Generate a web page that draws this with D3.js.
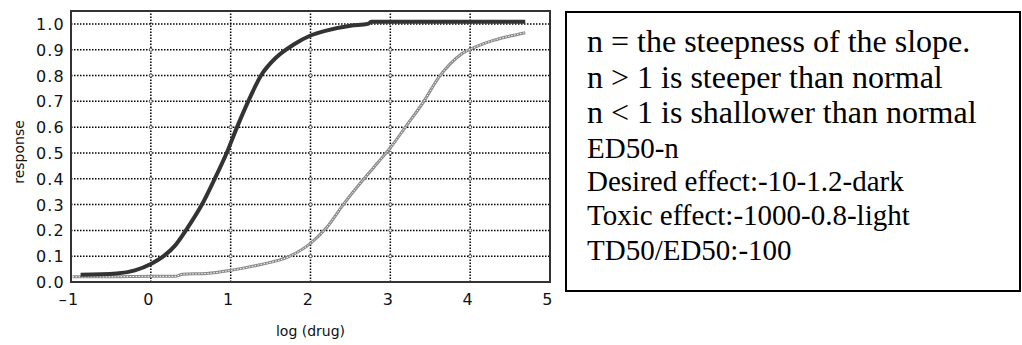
<!DOCTYPE html>
<meta charset='utf-8'>
<style>
  body { margin:0; background:#fff; }
  .tick-label { font-family:'DejaVu Sans', sans-serif; font-size:16px; fill:#111; letter-spacing:1.2px; }
  .axis-title { font-family:'DejaVu Sans', sans-serif; font-size:14px; fill:#111; }
</style>
<body>
  <script src='https://d3js.org/d3.v7.min.js' charset='utf-8'></script>
  <script>

    var width = 1022;
    var height = 345;

    // tick values
    var xTicks = [-1, 0, 1, 2, 3, 4, 5];
    var yTicks = [0.0, 0.1, 0.2, 0.3, 0.4, 0.5, 0.6, 0.7, 0.8, 0.9, 1.0];

    // desired effect curve (dark)
    var darkX = [-0.88, -0.43, -0.2, 0.0, 0.16, 0.3, 0.46, 0.64, 0.8, 0.95, 1.08, 1.22, 1.38, 1.57, 1.79, 2.0, 2.21, 2.5, 2.72, 2.76, 4.69];
    var darkY = [0.028, 0.033, 0.045, 0.07, 0.10, 0.14, 0.21, 0.30, 0.40, 0.50, 0.60, 0.70, 0.80, 0.87, 0.92, 0.955, 0.975, 0.993, 1.0, 1.008, 1.008];

    // toxic effect curve (light)
    var lightX = [-0.98, -0.5, 0.0, 0.3, 0.4, 0.7, 1.0, 1.35, 1.74, 2.0, 2.2, 2.41, 2.67, 2.85, 3.0, 3.2, 3.42, 3.6, 3.75, 3.9, 4.1, 4.3, 4.5, 4.69];
    var lightY = [0.02, 0.02, 0.022, 0.022, 0.03, 0.033, 0.045, 0.066, 0.10, 0.15, 0.21, 0.30, 0.40, 0.465, 0.52, 0.605, 0.70, 0.79, 0.845, 0.885, 0.915, 0.937, 0.953, 0.966];

    var notes = [
      'n = the steepness of the slope.',
      'n > 1 is steeper than normal',
      'n < 1 is shallower than normal',
      'ED50-n',
      'Desired effect:-10-1.2-dark',
      'Toxic effect:-1000-0.8-light',
      'TD50/ED50:-100'
    ];

    var svg = d3.select('body').append('svg')
      .attr('width', width)
      .attr('height', height);

    var x = d3.scaleLinear().domain([-1, 5]).range([71, 550]);
    var y = d3.scaleLinear().domain([0, 1.05]).range([282, 11]);

    // grid
    var grid = svg.append('g');
    grid.selectAll('.vg')
      .data(xTicks.slice(1, -1))
      .enter().append('line')
      .attr('x1', d => x(d)).attr('x2', d => x(d))
      .attr('y1', y(0)).attr('y2', y(1.05))
      .attr('stroke', '#000').attr('stroke-width', 1.5)
      .attr('stroke-dasharray', '1.5,1.5');
    grid.selectAll('.hg')
      .data(yTicks.slice(1))
      .enter().append('line')
      .attr('x1', x(-1)).attr('x2', x(5))
      .attr('y1', d => y(d)).attr('y2', d => y(d))
      .attr('stroke', '#000').attr('stroke-width', 1.5)
      .attr('stroke-dasharray', '1.5,1.5');

    // little rings where grid lines cross
    var crossings = [];
    xTicks.slice(1, -1).forEach(a => yTicks.slice(1, -1).forEach(b => crossings.push([a, b])));
    grid.selectAll('circle')
      .data(crossings)
      .enter().append('circle')
      .attr('cx', d => x(d[0])).attr('cy', d => y(d[1]))
      .attr('r', 1.6)
      .attr('fill', '#fff').attr('stroke', '#333').attr('stroke-width', 0.8);

    var lightData = lightX.map((d, i) => [d, lightY[i]]);
    var darkData = darkX.map((d, i) => [d, darkY[i]]);

    var smooth = d3.line().x(d => x(d[0])).y(d => y(d[1])).curve(d3.curveMonotoneX);

    svg.append('path')
      .datum(lightData)
      .attr('d', smooth)
      .attr('fill', 'none')
      .attr('stroke', '#8a8a8a')
      .attr('stroke-width', 3);
    svg.append('path')
      .datum(lightData)
      .attr('d', smooth)
      .attr('fill', 'none')
      .attr('stroke', '#fff')
      .attr('stroke-width', 1)
      .attr('stroke-dasharray', '1.5,1.5');

    svg.append('path')
      .datum(darkData)
      .attr('d', smooth)
      .attr('fill', 'none')
      .attr('stroke', '#333')
      .attr('stroke-width', 4)
      .attr('stroke-linejoin', 'round');

    // frame
    svg.append('rect')
      .attr('x', x(-1)).attr('y', y(1.05))
      .attr('width', x(5) - x(-1)).attr('height', y(0) - y(1.05))
      .attr('fill', 'none')
      .attr('stroke', '#333')
      .attr('stroke-width', 2);

    // tick labels
    svg.selectAll('.yl')
      .data(yTicks)
      .enter().append('text')
      .attr('class', 'tick-label')
      .attr('x', 65)
      .attr('y', d => y(d) + 6)
      .attr('text-anchor', 'end')
      .text(d => d3.format('.1f')(d));

    svg.selectAll('.xl')
      .data(xTicks)
      .enter().append('text')
      .attr('class', 'tick-label')
      .attr('x', d => x(d) - 2)
      .attr('y', 305)
      .attr('text-anchor', 'middle')
      .text(d => d < 0 ? '\u2013' + Math.abs(d) : d);

    svg.append('text')
      .attr('class', 'axis-title')
      .attr('x', (x(-1) + x(5)) / 2)
      .attr('y', 336)
      .attr('text-anchor', 'middle')
      .text('log (drug)');

    svg.append('text')
      .attr('class', 'axis-title')
      .attr('transform', 'translate(24,152) rotate(-90)')
      .attr('text-anchor', 'middle')
      .text('response');

    // note box
    svg.append('rect')
      .attr('x', 566).attr('y', 12)
      .attr('width', 454).attr('height', 279)
      .attr('fill', 'none')
      .attr('stroke', '#000')
      .attr('stroke-width', 2);

    var baselines = [52, 87.5, 122.5, 157.5, 191, 225, 259.5];
    svg.selectAll('.note')
      .data(notes)
      .enter().append('text')
      .attr('class', 'note')
      .attr('x', 587)
      .attr('y', (d, i) => baselines[i])
      .style('font-family', "'Liberation Serif', 'Times New Roman', Times, serif")
      .style('font-size', (d, i) => (i < 3 ? 32 : 29) + 'px')
      .attr('fill', '#000')
      .text(d => d);
  </script>
</body>
